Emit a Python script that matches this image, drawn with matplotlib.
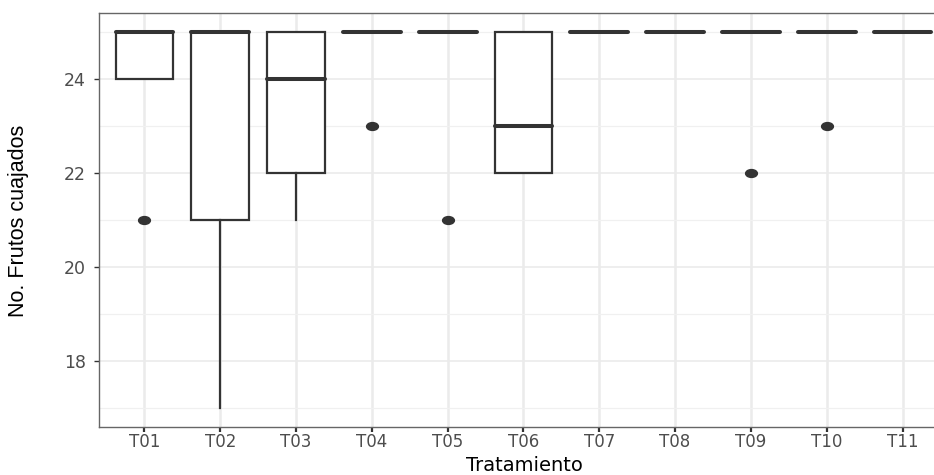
import matplotlib
matplotlib.use('Agg')
import matplotlib.pyplot as plt
from matplotlib import font_manager
from matplotlib.path import Path
from matplotlib.ticker import MultipleLocator
import numpy as np

# Box statistics
tratamientos = ['T01', 'T02', 'T03', 'T04', 'T05', 'T06', 'T07', 'T08', 'T09', 'T10', 'T11']
q1 = [24, 21, 22, 25, 25, 22, 25, 25, 25, 25, 25]
mediana = [25, 25, 24, 25, 25, 23, 25, 25, 25, 25, 25]
q3 = [25, 25, 25, 25, 25, 25, 25, 25, 25, 25, 25]
bigote_inf = [24, 17, 21, 25, 25, 22, 25, 25, 25, 25, 25]
bigote_sup = [25, 25, 25, 25, 25, 25, 25, 25, 25, 25, 25]
atipicos = [[21], [], [], [23], [21], [], [], [], [22], [23], []]

stats = []
for i in range(len(tratamientos)):
    stats.append({'label': tratamientos[i], 'q1': q1[i], 'med': mediana[i], 'q3': q3[i],
                  'whislo': bigote_inf[i], 'whishi': bigote_sup[i],
                  'fliers': np.array(atipicos[i])})

# narrow font for the y label if present
try:
    font_manager.findfont('Liberation Sans Narrow', fallback_to_default=False)
    ylab_font, ylab_size = 'Liberation Sans Narrow', 18
except Exception:
    ylab_font, ylab_size = 'Liberation Sans', 15.5

W, H = 934, 475
fig = plt.figure(figsize=(W / 100, H / 100), dpi=100)
ax = fig.add_axes([99 / W, 48 / H, (948 - 99) / W, (427 - 13) / H])

dark = '#333333'
# slightly wide dot like in the original
circ = Path.unit_circle()
ellipse = Path(circ.vertices * np.array([1.5, 1.0]), circ.codes)

ax.bxp(stats, positions=range(1, 12), widths=0.76, patch_artist=True,
       showcaps=False, manage_ticks=False,
       boxprops=dict(facecolor='white', edgecolor=dark, linewidth=1.6),
       medianprops=dict(color=dark, linewidth=2.9, solid_capstyle='round'),
       whiskerprops=dict(color=dark, linewidth=1.6),
       flierprops=dict(marker=ellipse, markerfacecolor=dark, markeredgecolor=dark,
                       markersize=8.5, linestyle='none'))

ax.set_xlim(0.4, 11.6)
ax.set_ylim(16.6, 25.4)
ax.set_xticks(range(1, 12))
ax.set_xticklabels(tratamientos)
ax.yaxis.set_major_locator(MultipleLocator(2))
ax.yaxis.set_minor_locator(MultipleLocator(1))

ax.grid(True, which='major', axis='x', color='#EBEBEB', linewidth=1.8)
ax.grid(True, which='major', axis='y', color='#EBEBEB', linewidth=1.2)
ax.grid(True, which='minor', axis='y', color='#F0F0F0', linewidth=0.9)
ax.set_axisbelow(True)

for s in ax.spines.values():
    s.set_color('#666666')
    s.set_linewidth(1.0)

ax.tick_params(axis='x', which='major', length=3.5, width=1.6, color=dark, pad=0.5,
               labelsize=12, labelcolor='#4D4D4D')
ax.tick_params(axis='y', which='major', length=3.5, width=1.0, color=dark, pad=6,
               labelsize=12.5, labelcolor='#4D4D4D')
ax.tick_params(axis='y', which='minor', length=0)
for lab in ax.get_xticklabels() + ax.get_yticklabels():
    lab.set_family('DejaVu Sans')

fig.text(8 / W, 1 - 220.5 / H, 'No. Frutos cuajados', rotation=90, ha='left', va='center',
         family=ylab_font, fontsize=ylab_size, color='black')
fig.text(524 / W, 0.3 / H, 'Tratamiento', ha='center', va='bottom',
         family='DejaVu Sans', fontsize=14, color='black')

fig.savefig('out.png', dpi=100)
